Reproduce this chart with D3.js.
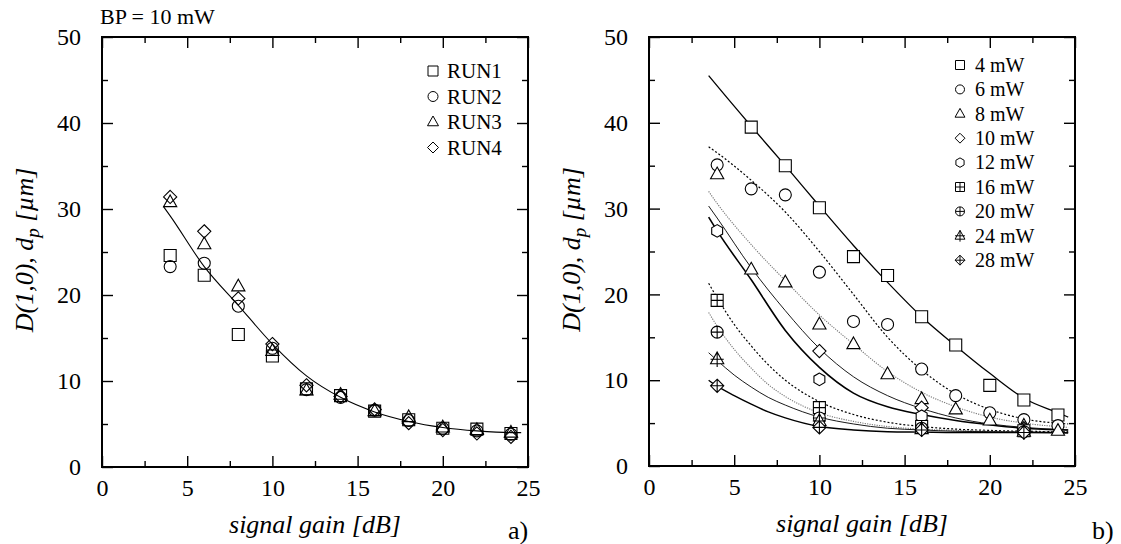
<!DOCTYPE html>
<html>
<head>
<meta charset="utf-8">
<script src="https://cdn.jsdelivr.net/npm/d3@7"></script>
<style>
  body { margin: 0; background: #fff; }
  svg { display: block; font-family: "Liberation Serif", "Times New Roman", serif; }
  .tick line { stroke: #000; stroke-width: 1.4; }
  .tick text { font-size: 24px; fill: #000; }
</style>
</head>
<body>
<svg width="1121" height="544"></svg>
<script>
// ---- panel a) : BP = 10 mW, four runs ----
var gainA = [4, 6, 8, 10, 12, 14, 16, 18, 20, 22, 24];
var run1 = [24.6, 22.3, 15.4, 12.9, 9.1, 8.3, 6.5, 5.5, 4.5, 4.4, 3.9];
var run2 = [23.3, 23.7, 18.7, 13.8, 9.0, 8.1, 6.6, 5.4, 4.5, 4.2, 3.8];
var run3 = [30.8, 25.9, 21.0, 13.5, 8.9, 8.4, 6.5, 5.8, 4.6, 4.3, 4.0];
var run4 = [31.4, 27.4, 19.6, 14.3, 9.5, 8.2, 6.7, 5.1, 4.3, 3.9, 3.5];
var fitA = [[3.6, 30.3], [4, 29.2], [6, 23.3], [8, 18.8], [10, 14.3], [12, 10.6], [14, 8.1],
            [16, 6.4], [18, 5.3], [20, 4.6], [22, 4.2], [24, 4.0], [24.6, 4.0]];
var runNames = ["RUN1", "RUN2", "RUN3", "RUN4"];

// ---- panel b) : different pump powers ----
var powerNames = ["4 mW", "6 mW", "8 mW", "10 mW", "12 mW", "16 mW", "20 mW", "24 mW", "28 mW"];
var mw4  = [[6, 39.5], [8, 35.0], [10, 30.1], [12, 24.4], [14, 22.2], [16, 17.4], [18, 14.1], [20, 9.4], [22, 7.7], [24, 5.95]];
var mw6  = [[4, 35.1], [6, 32.3], [8, 31.6], [10, 22.6], [12, 16.85], [14, 16.5], [16, 11.3], [18, 8.2], [20, 6.2], [22, 5.4], [24, 4.7]];
var mw8  = [[4, 34.0], [6, 22.9], [8, 21.4], [10, 16.5], [12, 14.2], [14, 10.7], [16, 7.8], [18, 6.6], [20, 5.3], [22, 4.7], [24, 4.1]];
var mw10 = [[10, 13.4], [16, 6.8], [22, 4.4]];
var mw12 = [[4, 27.4], [10, 10.1], [16, 5.8], [22, 4.3]];
var mw16 = [[4, 19.3], [10, 6.8], [16, 4.6], [22, 4.1]];
var mw20 = [[4, 15.6], [10, 5.6], [16, 4.4], [22, 4.0]];
var mw24 = [[4, 12.45], [10, 5.25], [16, 4.3], [22, 4.0]];
var mw28 = [[4, 9.35], [10, 4.5], [16, 4.2], [22, 3.9]];

var fit4  = [[3.5, 45.5], [4, 44.3], [6, 39.6], [8, 35.0], [10, 30.3], [12, 25.7], [14, 21.4], [16, 17.4], [18, 14.0], [20, 10.8], [22, 7.9], [24, 6.2], [24.6, 5.7]];
var fit6  = [[3.5, 37.2], [4, 36.5], [6, 33.3], [8, 29.6], [10, 25.0], [12, 20.0], [14, 15.0], [16, 11.2], [18, 8.4], [20, 6.6], [22, 5.5], [24.6, 4.9]];
var fit8  = [[3.5, 32.0], [4, 30.6], [6, 25.8], [8, 21.6], [10, 17.6], [12, 14.2], [14, 11.0], [16, 8.6], [18, 6.9], [20, 5.7], [22, 5.0], [24.6, 4.5]];
var fit10 = [[3.5, 30.3], [4, 28.9], [6, 23.1], [8, 18.1], [10, 13.7], [12, 10.4], [14, 8.2], [16, 6.7], [18, 5.6], [20, 4.9], [22, 4.5], [24.6, 4.2]];
var fit12 = [[3.5, 29.0], [4, 27.4], [6, 21.7], [8, 15.8], [10, 11.5], [12, 8.5], [14, 6.9], [16, 6.0], [18, 5.3], [20, 4.8], [22, 4.4], [24.6, 4.2]];
var fit16 = [[3.5, 21.3], [4, 19.6], [5, 16.5], [6, 14.0], [7, 11.8], [8, 10.0], [10, 7.5], [12, 6.0], [14, 5.1], [16, 4.6], [18, 4.3], [20, 4.15], [22, 4.05], [24.6, 4.0]];
var fit20 = [[3.5, 17.9], [4, 16.3], [5, 13.6], [6, 11.4], [7, 9.5], [8, 8.1], [10, 6.2], [12, 5.2], [14, 4.6], [16, 4.3], [18, 4.15], [20, 4.05], [22, 4.0], [24.6, 4.0]];
var fit24 = [[3.5, 13.2], [4, 12.3], [5, 10.6], [6, 9.2], [7, 8.0], [8, 7.1], [10, 5.7], [12, 4.9], [14, 4.4], [16, 4.2], [18, 4.05], [20, 4.0], [22, 3.95], [24.6, 3.9]];
var fit28 = [[3.5, 10.0], [4, 9.3], [5, 8.2], [6, 7.2], [7, 6.3], [8, 5.6], [10, 4.6], [12, 4.2], [14, 4.0], [16, 3.95], [18, 3.9], [20, 3.9], [22, 3.9], [24.6, 3.85]];

var xMajor = [0, 5, 10, 15, 20, 25], xMinor = [2.5, 7.5, 12.5, 17.5, 22.5];
var yMajor = [0, 10, 20, 30, 40, 50], yMinor = [5, 15, 25, 35, 45];

var svg = d3.select("svg");

// marker outlines, centred on 0,0
function marker(type, s) {
  var h = s / 2, p = "";
  var base = type.replace("Plus", "");
  if (base == "square") p = "M" + -h + "," + -h + "H" + h + "V" + h + "H" + -h + "Z";
  if (base == "circle") p = "M" + h + ",0A" + h + "," + h + " 0 1 1 " + -h + ",0A" + h + "," + h + " 0 1 1 " + h + ",0Z";
  if (base == "triangle") p = "M0," + (-1.2 * h) + "L" + (1.1 * h) + "," + (0.75 * h) + "L" + (-1.1 * h) + "," + (0.75 * h) + "Z";
  if (base == "diamond") p = "M0," + (-1.1 * h) + "L" + (1.1 * h) + ",0L0," + (1.1 * h) + "L" + (-1.1 * h) + ",0Z";
  if (base == "hexagon") {
    var r = h * 1.05;
    p = d3.range(6).map(function(i) {
      var a = Math.PI / 2 + i * Math.PI / 3;
      return (i ? "L" : "M") + (r * Math.cos(a)) + "," + (-r * Math.sin(a));
    }).join("") + "Z";
  }
  if (type.indexOf("Plus") > 0) {
    if (base == "triangle") p += "M0," + (-1.2 * h) + "V" + (1.3 * h) + "M" + (-1.1 * h) + ",0H" + (1.1 * h);
    else if (base == "diamond") p += "M0," + (-1.1 * h) + "V" + (1.1 * h) + "M" + (-1.1 * h) + ",0H" + (1.1 * h);
    else p += "M0," + -h + "V" + h + "M" + -h + ",0H" + h;
  }
  return p;
}

function panel(left, top, width, height) {
  var g = svg.append("g").attr("transform", "translate(" + left + "," + top + ")");
  var x = d3.scaleLinear().domain([0, 25]).range([0, width]);
  var y = d3.scaleLinear().domain([0, 50]).range([height, 0]);
  function strip(a) {
    a.select(".domain").remove();
    a.attr("font-family", null).attr("font-size", null);
  }

  g.append("g").attr("transform", "translate(0," + height + ")")
      .call(d3.axisBottom(x).tickValues(xMajor).tickSizeInner(-11).tickSizeOuter(0).tickPadding(12).tickFormat(d3.format("d"))).call(strip);
  g.append("g").attr("transform", "translate(0," + height + ")")
      .call(d3.axisBottom(x).tickValues(xMinor).tickSizeInner(-6).tickSizeOuter(0).tickFormat("")).call(strip);
  g.append("g").call(d3.axisTop(x).tickValues(xMajor).tickSizeInner(-11).tickSizeOuter(0).tickFormat("")).call(strip);
  g.append("g").call(d3.axisTop(x).tickValues(xMinor).tickSizeInner(-6).tickSizeOuter(0).tickFormat("")).call(strip);
  g.append("g")
      .call(d3.axisLeft(y).tickValues(yMajor).tickSizeInner(-11).tickSizeOuter(0).tickPadding(21)).call(strip);
  g.append("g").call(d3.axisLeft(y).tickValues(yMinor).tickSizeInner(-6).tickSizeOuter(0).tickFormat("")).call(strip);
  g.append("g").attr("transform", "translate(" + width + ",0)")
      .call(d3.axisRight(y).tickValues(yMajor).tickSizeInner(-11).tickSizeOuter(0).tickFormat("")).call(strip);
  g.append("g").attr("transform", "translate(" + width + ",0)")
      .call(d3.axisRight(y).tickValues(yMinor).tickSizeInner(-6).tickSizeOuter(0).tickFormat("")).call(strip);

  g.append("rect")
      .attr("width", width).attr("height", height)
      .attr("fill", "none").attr("stroke", "#000").attr("stroke-width", 2);

  g.append("text")
      .attr("x", width / 2).attr("y", height + 66)
      .attr("text-anchor", "middle")
      .style("font-size", "26px").style("font-style", "italic")
      .text("signal gain [dB]");

  var yt = g.append("text")
      .attr("transform", "translate(-69," + (height / 2 - 2) + ") rotate(-90)")
      .attr("text-anchor", "middle")
      .style("font-size", "26px").style("font-style", "italic");
  yt.append("tspan").text("D(1,0), d");
  yt.append("tspan").attr("dy", "0.3em").style("font-size", "19px").text("p");
  yt.append("tspan").attr("dy", "-0.22em").text(" [\u00b5m]");

  return {g: g, x: x, y: y};
}

var line = function(p) {
  return d3.line().curve(d3.curveMonotoneX)
      .x(function(d) { return p.x(d[0]); })
      .y(function(d) { return p.y(d[1]); });
};

// ---- panel a ----
var A = panel(102, 37, 426, 430);

A.g.append("path")
    .attr("d", line(A)(fitA))
    .attr("fill", "none").attr("stroke", "#000").attr("stroke-width", 1.1);

var runs = [run1, run2, run3, run4], runShapes = ["square", "circle", "triangle", "diamond"];
runs.forEach(function(vals, k) {
  A.g.selectAll(".run" + k)
    .data(vals)
    .enter().append("path")
      .attr("class", "run" + k)
      .attr("transform", function(d, i) { return "translate(" + A.x(gainA[i]) + "," + A.y(d) + ")"; })
      .attr("d", marker(runShapes[k], 12))
      .attr("fill", "none").attr("stroke", "#000").attr("stroke-width", 1.1);
});

var legA = A.g.selectAll(".legA")
    .data(runNames)
    .enter().append("g")
      .attr("transform", function(d, i) { return "translate(331," + (34 + i * 25.5) + ")"; });
legA.append("path")
    .attr("d", function(d, i) { return marker(runShapes[i], 10); })
    .attr("fill", "none").attr("stroke", "#000").attr("stroke-width", 1);
legA.append("text")
    .attr("x", 14).attr("dy", "0.34em")
    .style("font-size", "21px")
    .text(function(d) { return d; });

svg.append("text").attr("x", 100).attr("y", 24).style("font-size", "22px").text("BP = 10 mW");
svg.append("text").attr("x", 508).attr("y", 539).style("font-size", "26px").text("a)");

// ---- panel b ----
var B = panel(649, 37, 426, 429);

var powerData = [mw4, mw6, mw8, mw10, mw12, mw16, mw20, mw24, mw28];
var powerFits = [fit4, fit6, fit8, fit10, fit12, fit16, fit20, fit24, fit28];
var powerShapes = ["square", "circle", "triangle", "diamond", "hexagon", "squarePlus", "circlePlus", "trianglePlus", "diamondPlus"];
var fitStroke = ["#000", "#000", "#777", "#000", "#000", "#000", "#777", "#000", "#000"];
var fitWidth = [1.3, 1.2, 1.1, 0.9, 1.6, 1.2, 1.1, 0.9, 1.4];
var fitDash = [null, "2,2", "1.2,1.2", null, null, "2,2", "1.2,1.2", null, null];

powerFits.forEach(function(f, k) {
  B.g.append("path")
      .attr("d", line(B)(f))
      .attr("fill", "none")
      .attr("stroke", fitStroke[k])
      .attr("stroke-width", fitWidth[k])
      .attr("stroke-dasharray", fitDash[k]);
});

powerData.forEach(function(vals, k) {
  B.g.selectAll(".pw" + k)
    .data(vals)
    .enter().append("path")
      .attr("class", "pw" + k)
      .attr("transform", function(d) { return "translate(" + B.x(d[0]) + "," + B.y(d[1]) + ")"; })
      .attr("d", marker(powerShapes[k], 12))
      .attr("fill", "#fff").attr("stroke", "#000").attr("stroke-width", 1.1);
});

var legB = B.g.selectAll(".legB")
    .data(powerNames)
    .enter().append("g")
      .attr("transform", function(d, i) { return "translate(311," + (28 + i * 24.4) + ")"; });
legB.append("path")
    .attr("d", function(d, i) { return marker(powerShapes[i], 9); })
    .attr("fill", "none").attr("stroke", "#000").attr("stroke-width", 1);
legB.append("text")
    .attr("x", 15).attr("dy", "0.34em")
    .style("font-size", "20px")
    .text(function(d) { return d; });

svg.append("text").attr("x", 1092).attr("y", 539).style("font-size", "26px").text("b)");
</script>
</body>
</html>
